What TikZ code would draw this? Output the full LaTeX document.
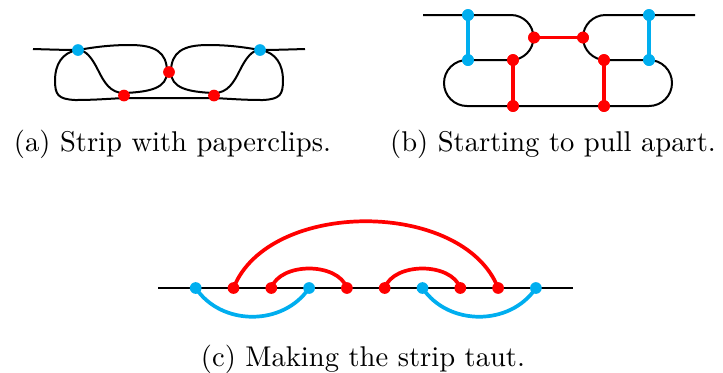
\documentclass[tikz,border=0pt]{standalone}
\usepackage{xcolor}
\definecolor{clipblue}{RGB}{0,174,239}
\definecolor{clipred}{RGB}{255,0,0}
\begin{document}
\begin{tikzpicture}[x=0.35pt,y=-0.35pt,
  strip/.style={black,line width=0.7pt},
  bluelink/.style={clipblue,line width=1.3pt},
  redlink/.style={clipred,line width=1.3pt},
  bluedot/.style={circle,fill=clipblue,inner sep=0pt,minimum size=4.1pt},
  reddot/.style={circle,fill=clipred,inner sep=0pt,minimum size=4.1pt},
  capt/.style={anchor=base,font=\fontsize{10}{12}\selectfont,inner sep=0pt}]
\useasboundingbox (0,0) rectangle (723,372);

% ---------- (a) ----------
\draw[strip] (33,49) .. controls (50,49.5) and (65,50) .. (78,50)
  .. controls (95,47) and (110,45) .. (130,45)
  .. controls (155,45) and (167,52) .. (167,72)
  .. controls (167,88) and (150,92) .. (124,93)
  .. controls (110,93) and (104,82) .. (98,70)
  .. controls (92,58) and (86,50) .. (78,50)
  .. controls (62,52) and (55,65) .. (55,80)
  .. controls (55,95) and (58,99) .. (75,100)
  .. controls (100,100) and (115,98) .. (130,98)
  -- (208,98)
  .. controls (223,98) and (238,100) .. (263,100)
  .. controls (280,99) and (283,95) .. (283,80)
  .. controls (283,65) and (276,52) .. (260,50)
  .. controls (252,50) and (246,58) .. (240,70)
  .. controls (234,82) and (228,93) .. (214,93)
  .. controls (188,92) and (171,88) .. (171,72)
  .. controls (171,52) and (183,45) .. (208,45)
  .. controls (228,45) and (243,47) .. (260,50)
  .. controls (273,50) and (288,49.5) .. (305,49);
\node[bluedot] (a1) at (78,50) {};
\node[bluedot] (a2) at (260,50) {};
\node[reddot] (a3) at (169,72) {};
\node[reddot] (a4) at (124,95.5) {};
\node[reddot] (a5) at (214,95.5) {};
\node[capt] (capa) at (172.5,151) {(a) Strip with paperclips.};

% ---------- (b) ----------
\draw[strip] (423,15) -- (511,15)
  .. controls (523.4,15) and (533.5,25.1) .. (533.5,37.5)
  .. controls (533.5,49.9) and (523.4,60) .. (511,60)
  -- (467,60)
  .. controls (454.3,60) and (444,70.3) .. (444,83)
  .. controls (444,95.7) and (454.3,106) .. (467,106)
  -- (649,106)
  .. controls (661.7,106) and (672,95.7) .. (672,83)
  .. controls (672,70.3) and (661.7,60) .. (649,60)
  -- (605.5,60)
  .. controls (593.1,60) and (583,49.9) .. (583,37.5)
  .. controls (583,25.1) and (593.1,15) .. (605.5,15)
  -- (695,15);
\node[bluedot] (b1) at (468,15) {};
\node[bluedot] (b2) at (468,60) {};
\node[bluedot] (b3) at (649,15) {};
\node[bluedot] (b4) at (649,60) {};
\node[reddot] (b5) at (513,60) {};
\node[reddot] (b6) at (513,106) {};
\node[reddot] (b7) at (604,60) {};
\node[reddot] (b8) at (604,106) {};
\node[reddot] (b9) at (534,37.5) {};
\node[reddot] (b10) at (583,37.5) {};
\draw[bluelink] (b1.center) -- (b2.center);
\draw[bluelink] (b3.center) -- (b4.center);
\draw[redlink] (b5.center) -- (b6.center);
\draw[redlink] (b7.center) -- (b8.center);
\draw[redlink] (b9.center) -- (b10.center);
\foreach \n in {b1,b2,b3,b4}{\node[bluedot] at (\n) {};}
\foreach \n in {b5,b6,b7,b8,b9,b10}{\node[reddot] at (\n) {};}
\node[capt] (capb) at (553,151) {(b) Starting to pull apart.};

% ---------- (c) ----------
\coordinate (cl) at (158,288);
\coordinate (cr) at (573,288);
\draw[strip] (cl) -- (cr);
\foreach \k in {0,...,9}{\coordinate (c\k) at ({195.7+37.8*\k},288);}
\draw[redlink] (c1) .. controls +(35,-89) and +(-35,-89) .. (c8);
\draw[redlink] (c2) .. controls +(9,-26) and +(-9,-26) .. (c4);
\draw[redlink] (c5) .. controls +(9,-26) and +(-9,-26) .. (c7);
\draw[bluelink] (c0) .. controls +(25.7,38.3) and +(-25.7,38.3) .. (c3);
\draw[bluelink] (c6) .. controls +(25.7,38.3) and +(-25.7,38.3) .. (c9);
\foreach \k in {0,3,6,9}{\node[bluedot] at (c\k) {};}
\foreach \k in {1,2,4,5,7,8}{\node[reddot] at (c\k) {};}
\node[capt] (capc) at (363,366.7) {(c) Making the strip taut.};
\end{tikzpicture}
\end{document}
